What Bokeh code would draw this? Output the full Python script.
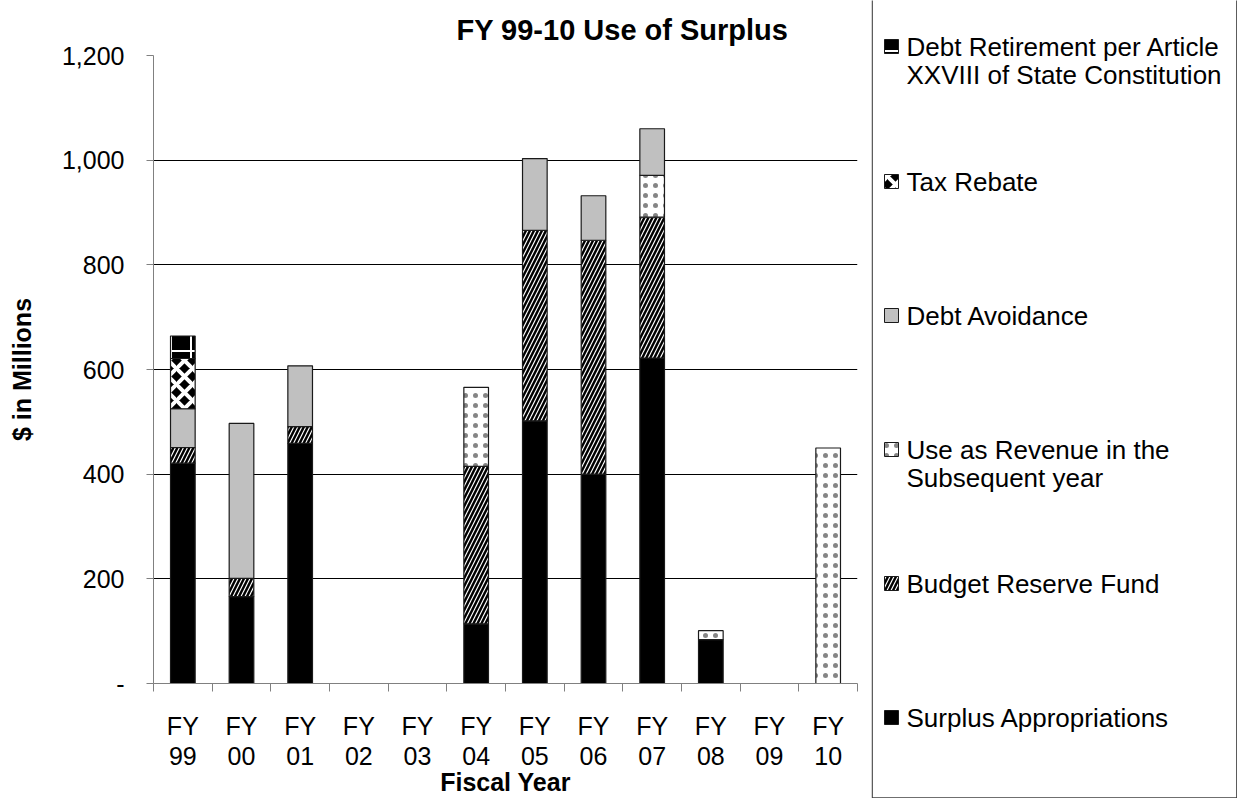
from bokeh.plotting import figure
from bokeh.models import Range1d, FixedTicker, ColumnDataSource
from bokeh.layouts import row, column
from bokeh.core.properties import value
from bokeh.embed import file_html
from bokeh.resources import INLINE

# ---------------- data ----------------
years = ["99", "00", "01", "02", "03", "04", "05", "06", "07", "08", "09", "10"]
surplus_appropriations = [421, 166, 459, 0, 0, 114, 502, 400, 622, 84, 0, 0]
budget_reserve_fund = [30, 35, 32, 0, 0, 301, 364, 447, 269, 0, 0, 0]
use_as_revenue = [0, 0, 0, 0, 0, 151, 0, 0, 80, 17, 0, 450]
debt_avoidance = [74, 296, 116, 0, 0, 0, 137, 85, 89, 0, 0, 0]
tax_rebate = [96, 0, 0, 0, 0, 0, 0, 0, 0, 0, 0, 0]
debt_retirement = [43, 0, 0, 0, 0, 0, 0, 0, 0, 0, 0, 0]
y_ticks = [0, 200, 400, 600, 800, 1000, 1200]
y_tick_labels = ["-", "200", "400", "600", "800", "1,000", "1,200"]

series_names = ["Surplus Appropriations", "Budget Reserve Fund",
                "Use as Revenue in the\nSubsequent year", "Debt Avoidance",
                "Tax Rebate", "Debt Retirement per Article\nXXVIII of State Constitution"]
series_values = [surplus_appropriations, budget_reserve_fund, use_as_revenue,
                 debt_avoidance, tax_rebate, debt_retirement]

styles = [
    dict(fill_color="black", hatch_pattern=" ", hatch_color="white", hatch_scale=8, hatch_weight=1),
    dict(fill_color="black", hatch_pattern="/", hatch_color="white", hatch_scale=8, hatch_weight=1.2),
    dict(fill_color="white", hatch_pattern=".", hatch_color="#666666", hatch_scale=10, hatch_weight=0.5, hatch_alpha=0.8),
    dict(fill_color="#C0C0C0", hatch_pattern=" ", hatch_color="white", hatch_scale=8, hatch_weight=1),
    dict(fill_color="black", hatch_pattern="x", hatch_color="white", hatch_scale=16, hatch_weight=4),
    dict(fill_color="black", hatch_pattern="+", hatch_color="white", hatch_scale=20, hatch_weight=2),
]

FONT = "Liberation Sans"

# ---------------- main chart ----------------
n = len(years)
p = figure(width=871, height=798, output_backend="svg", toolbar_location=None,
           x_range=Range1d(0, n), y_range=Range1d(0, 1200),
           min_border_left=153, min_border_right=14, min_border_top=55, min_border_bottom=108)
p.outline_line_color = None
p.background_fill_color = "white"

xs = [i + 0.5 for i in range(n)]
bottom = [0.0] * n
for vals, st in zip(series_values, styles):
    top = [b + v for b, v in zip(bottom, vals)]
    src = ColumnDataSource(dict(x=xs, bottom=bottom, top=top,
                                la=[1.0 if v > 0 else 0.0 for v in vals]))
    p.vbar(x="x", bottom="bottom", top="top", width=0.42, source=src,
           line_color="#1a1a1a", line_width=1.2, line_alpha="la", **st)
    bottom = top

# title
p.title.text = "FY 99-10 Use of Surplus"
p.title.text_font = FONT
p.title.text_font_style = "bold"
p.title.text_font_size = "29px"
p.title.text_color = "black"
p.title.align = "left"
p.title.offset = 303
p.title.standoff = 20

# grid
p.xgrid.visible = False
p.ygrid.ticker = FixedTicker(ticks=y_ticks[1:-1])
p.ygrid.grid_line_color = "black"
p.ygrid.grid_line_width = 1

# y axis
ya = p.yaxis[0]
ya.ticker = FixedTicker(ticks=y_ticks)
ya.major_label_overrides = {t: l for t, l in zip(y_ticks, y_tick_labels)}
ya.major_tick_in = 0
ya.major_tick_out = 7
ya.minor_tick_out = 0
ya.minor_tick_in = 0
ya.axis_line_color = "#808080"
ya.major_tick_line_color = "#808080"
ya.major_label_text_font = FONT
ya.major_label_text_font_size = "25px"
ya.major_label_text_color = "black"
ya.major_label_standoff = 22
ya.axis_label = "$ in Millions"
ya.axis_label_text_font = FONT
ya.axis_label_text_font_style = "bold"
ya.axis_label_text_font_size = "25px"
ya.axis_label_text_color = "black"
ya.axis_label_standoff = 23

# x axis
xa = p.xaxis[0]
xa.ticker = FixedTicker(ticks=xs, minor_ticks=list(range(n + 1)))
xa.major_label_overrides = {x: "FY\n" + y for x, y in zip(xs, years)}
xa.major_tick_in = 0
xa.major_tick_out = 0
xa.minor_tick_in = 0
xa.minor_tick_out = 8
xa.axis_line_color = "#808080"
xa.minor_tick_line_color = "#808080"
xa.major_label_text_font = FONT
xa.major_label_text_font_size = "25px"
xa.major_label_text_color = "black"
xa.major_label_text_line_height = 1.08
xa.major_label_standoff = 20
xa.axis_label = "Fiscal Year"
xa.axis_label_text_font = FONT
xa.axis_label_text_font_style = "bold"
xa.axis_label_text_font_size = "25px"
xa.axis_label_text_color = "black"
xa.axis_label_standoff = -5

# ---------------- legend panel ----------------
lg = figure(width=366, height=798, output_backend="svg", toolbar_location=None,
            x_range=Range1d(871, 1237), y_range=Range1d(798, 0),
            x_axis_type=None, y_axis_type=None,
            min_border_left=0, min_border_right=0, min_border_top=0, min_border_bottom=0)
lg.grid.visible = False
lg.outline_line_color = None
# legend frame (its top edge lies above the visible page, as in the original)
lg.quad(left=[871.7], right=[1236.3], top=[-10], bottom=[797.3],
        fill_alpha=0, line_color="#404040", line_width=1.3)

legend_rows = [46, 181, 315, 449, 583, 717]  # top to bottom: last series first
for k, yy in enumerate(legend_rows):
    si = len(series_names) - 1 - k
    st = styles[si]
    lg.rect(x=[891], y=[yy], width=14, height=14, line_color="#1a1a1a", line_width=1, **st)
    lines = series_names[si].split("\n")
    lg.text(x=[906] * len(lines), y=[yy + 28 * j for j in range(len(lines))], text=lines,
            text_font=value(FONT), text_font_size="26px", text_baseline="middle",
            text_align="left", text_color="black")

layout = row(p, column(lg))
open("out.html", "w").write(file_html(layout, INLINE))
